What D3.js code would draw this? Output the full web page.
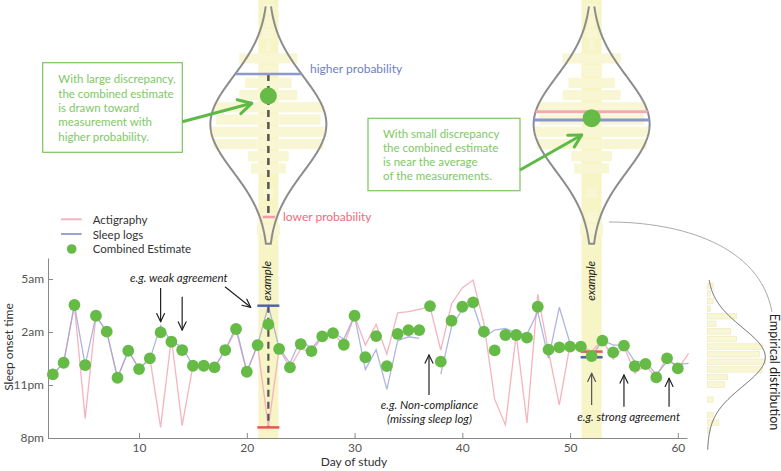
<!DOCTYPE html>
<html>
<head>
<meta charset="utf-8">
<script src="https://cdn.jsdelivr.net/npm/d3@7"></script>
<style>
body { margin: 0; background: #fff; }
text { font-family: Lato, "Open Sans", sans-serif; }
</style>
</head>
<body>
<svg id="chart" width="781" height="471"></svg>
<script>
// hours after 8pm
var days = d3.range(2, 62);
var actigraphy = [3.6,4.26,7.53,1.11,6.92,6.02,3.41,4.94,3.9,4.55,
                  0.6,5.66,0.7,4.09,4.09,4.0,4.98,6.1,3.75,5.26,
                  0.6,5.04,3.98,5.04,4.85,5.73,5.96,5.26,6.92,5.26,
                  6.43,4.75,7.09,7.15,7.28,7.43,4.98,7.6,8.5,8.94,
                  6.5,2.2,0.74,5.87,0.85,8.13,4.9,1.87,5.3,5.2,
                  4.89,5.55,4.47,5.2,3.66,4.1,3.43,4.6,3.9,4.79];
var sleepLogs = [3.6,4.26,7.53,4.13,6.92,6.02,3.41,4.94,3.95,4.45,
                 6.36,5.45,5.17,4.09,4.09,4.0,4.98,6.3,3.75,5.26,
                 7.49,5.1,4.23,5.59,5.04,5.8,5.96,5.6,6.92,3.87,
                 5.0,2.75,5.51,5.73,5.64,null,3.62,6.3,7.28,7.53,
                 5.7,6.11,6.21,5.92,5.87,7.15,4.51,7.4,5.35,5.15,
                 4.57,5.55,5.26,5.26,4.32,4.32,3.6,4.32,4.17,4.23];
var combined = [3.6,4.26,7.53,4.13,6.92,6.02,3.41,4.94,3.9,4.51,
                5.98,5.45,4.98,4.09,4.09,4.0,4.98,6.17,3.75,5.26,
                6.43,5.04,4.0,5.32,4.92,5.75,5.94,5.28,6.92,4.57,
                5.77,4.07,5.89,6.11,6.11,7.47,4.32,6.64,7.43,7.68,
                6.02,4.96,5.83,5.83,5.68,7.43,5.0,5.13,5.17,5.17,
                4.64,5.51,4.85,5.23,4.07,4.19,3.43,4.51,3.94,null];

var yTicks = [0, 3, 6, 9];
var yTickLabels = ["8pm", "11pm", "2am", "5am"];
var xTicks = [10, 20, 30, 40, 50, 60];
var exampleDays = [22, 52];

// empirical distribution (top bin first)
var histCounts = [2,1,2,1,10,3,8,10,19,18,20,19,7,6,0,2,0,2,4,1];
var histTop = 8.83, histStep = 0.43;
var gaussMean = 4.58, gaussSd = 1.67, gaussPeak = 20;

var svg = d3.select("#chart");

var x = d3.scaleLinear().domain([1.55, 60.85]).range([48, 687]);
var y = d3.scaleLinear().domain([0, 10.19]).range([438, 258]);
var violinY = d3.scaleLinear().domain([histTop, histTop - histCounts.length * histStep]).range([3.3, 248]);
var countW = d3.scaleLinear().domain([0, 20]).range([0, 58]);

function gauss(v) { return gaussPeak * Math.exp(-Math.pow(v - gaussMean, 2) / (2 * gaussSd * gaussSd)); }

var green = "#66bb47", pink = "#f5b4bd", blue = "#9aa2d8";

function arrow(g, x1, y1, x2, y2, color, w, len, ang) {
    var a = Math.atan2(y2 - y1, x2 - x1);
    g.append("line").attr("x1", x1).attr("y1", y1).attr("x2", x2).attr("y2", y2)
        .attr("stroke", color).attr("stroke-width", w);
    [ang, -ang].forEach(function(da) {
        g.append("line").attr("x1", x2).attr("y1", y2)
            .attr("x2", x2 - len * Math.cos(a + da)).attr("y2", y2 - len * Math.sin(a + da))
            .attr("stroke", color).attr("stroke-width", w).attr("stroke-linecap", "round");
    });
}

// example columns
svg.selectAll(".band").data(exampleDays).enter().append("rect")
    .attr("x", d => x(d) - 10).attr("y", 0)
    .attr("width", 20).attr("height", y(0))
    .attr("fill", "#f7f4c6");

// violins
var binH = violinY(histTop - histStep) - violinY(histTop);
exampleDays.forEach(function(day) {
    var cx = x(day);
    var g = svg.append("g");
    histCounts.forEach(function(c, i) {
        if (c === 0) return;
        g.append("rect").attr("x", cx - countW(c)).attr("width", 2 * countW(c))
            .attr("y", violinY(histTop - i * histStep) + 1).attr("height", binH - 2)
            .attr("fill", "#f8f6d3");
    });
    var vs = d3.range(8.72, 0.38, -0.04).concat([0.38]);
    var pts = vs.map(v => [cx - countW(gauss(v)), violinY(v)])
        .concat(vs.slice().reverse().map(v => [cx + countW(gauss(v)), violinY(v)]));
    g.append("path").attr("d", d3.line()(pts))
        .attr("fill", "none").attr("stroke", "#8c8c8c").attr("stroke-width", 2);
});

// measurement markers in the violins
var idx22 = days.indexOf(22), idx52 = days.indexOf(52);
var vm22 = d3.scaleLinear().domain([sleepLogs[idx22], actigraphy[idx22]]).range([74, 217]);
var vm52 = d3.scaleLinear().domain([sleepLogs[idx52], actigraphy[idx52]]).range([120, 111.7]);
function hw(py) { return countW(gauss(violinY.invert(py))); }

(function() {
    var cx = x(22), yl = vm22(sleepLogs[idx22]), ya = vm22(actigraphy[idx22]);
    svg.append("line").attr("x1", cx).attr("x2", cx).attr("y1", yl).attr("y2", ya)
        .attr("stroke", "#555").attr("stroke-width", 2.5).attr("stroke-dasharray", "7,5");
    svg.append("line").attr("x1", cx - hw(yl)).attr("x2", cx + hw(yl)).attr("y1", yl).attr("y2", yl)
        .attr("stroke", "#8c99d0").attr("stroke-width", 2.5);
    svg.append("line").attr("x1", cx - hw(ya) + 3).attr("x2", cx + hw(ya) - 2).attr("y1", ya).attr("y2", ya)
        .attr("stroke", "#f29aa6").attr("stroke-width", 2.5);
    svg.append("circle").attr("cx", cx).attr("cy", vm22(combined[idx22])).attr("r", 8.5).attr("fill", green);
    svg.append("text").attr("x", 310).attr("y", 73).attr("font-size", 12).attr("fill", "#7080c0").text("higher probability");
    svg.append("text").attr("x", 283).attr("y", 221).attr("font-size", 12).attr("fill", "#ee6c7c").text("lower probability");

    var cx2 = x(52), ya2 = vm52(actigraphy[idx52]), yl2 = vm52(sleepLogs[idx52]);
    svg.append("line").attr("x1", cx2 - hw(ya2)).attr("x2", cx2 + hw(ya2)).attr("y1", ya2).attr("y2", ya2)
        .attr("stroke", "#f4a8b0").attr("stroke-width", 3);
    svg.append("line").attr("x1", cx2 - hw(yl2)).attr("x2", cx2 + hw(yl2)).attr("y1", yl2).attr("y2", yl2)
        .attr("stroke", "#8a97cc").attr("stroke-width", 3);
    svg.append("circle").attr("cx", cx2).attr("cy", vm52(combined[idx52])).attr("r", 9).attr("fill", green);
})();

// annotation boxes
var boxGreen = "#7cc462", textGreen = "#80c866";
var box1 = svg.append("g");
box1.append("rect").attr("x", 42.7).attr("y", 62.7).attr("width", 139.6).attr("height", 89.6)
    .attr("fill", "none").attr("stroke", boxGreen).attr("stroke-width", 1.2);
["With large discrepancy,", "the combined estimate", "is drawn toward", "measurement with", "higher probability."]
    .forEach(function(t, i) {
        box1.append("text").attr("x", 58.3).attr("y", 83.3 + i * 14.3).attr("font-size", 11.5)
            .attr("fill", textGreen).text(t);
    });
arrow(svg, 182.3, 121.7, 251.7, 103.3, "#5eba46", 3, 15, 0.5);

var box2 = svg.append("g");
box2.append("rect").attr("x", 368).attr("y", 118.3).attr("width", 152).attr("height", 72.4)
    .attr("fill", "none").attr("stroke", boxGreen).attr("stroke-width", 1.2);
["With small discrepancy", "the combined estimate", "is near the average", "of the measurements."]
    .forEach(function(t, i) {
        box2.append("text").attr("x", 383).attr("y", 137.5 + i * 14.3).attr("font-size", 11.5)
            .attr("fill", textGreen).text(t);
    });
arrow(svg, 520, 170, 581.7, 135, "#5eba46", 3, 14, 0.5);

// legend
var leg = svg.append("g");
leg.append("line").attr("x1", 61).attr("x2", 81.7).attr("y1", 219.3).attr("y2", 219.3).attr("stroke", pink).attr("stroke-width", 2);
leg.append("line").attr("x1", 61).attr("x2", 81.7).attr("y1", 234).attr("y2", 234).attr("stroke", blue).attr("stroke-width", 2);
leg.append("circle").attr("cx", 71.7).attr("cy", 249).attr("r", 4.8).attr("fill", green);
[["Actigraphy", 224], ["Sleep logs", 238.7], ["Combined Estimate", 253.3]].forEach(function(d) {
    leg.append("text").attr("x", 92.7).attr("y", d[1]).attr("font-size", 11.5).attr("fill", "#333").text(d[0]);
});

// axes
var yAxis = svg.append("g").attr("transform", "translate(48,0)")
    .call(d3.axisLeft(y).tickValues(yTicks).tickFormat((d, i) => yTickLabels[i])
        .tickSizeInner(-5).tickSizeOuter(0).tickPadding(4));
var xAxis = svg.append("g").attr("transform", "translate(0," + y(0) + ")")
    .call(d3.axisBottom(x).tickValues(xTicks).tickSizeInner(-5).tickSizeOuter(0).tickPadding(5));
[yAxis, xAxis].forEach(function(a) {
    a.select(".domain").attr("stroke", "#888");
    a.selectAll(".tick line").attr("stroke", "#888");
    a.selectAll(".tick text").attr("font-family", "Lato, sans-serif").attr("font-size", 12).attr("fill", "#555");
});
svg.append("text").attr("x", 354).attr("y", 466).attr("text-anchor", "middle")
    .attr("font-size", 12).attr("fill", "#333").text("Day of study");
svg.append("text").attr("transform", "translate(12.5,347) rotate(-90)").attr("text-anchor", "middle")
    .attr("font-size", 12).attr("fill", "#333").text("Sleep onset time");

// series
var lineGen = d3.line().defined(d => d[1] != null).x(d => x(d[0])).y(d => y(d[1]));
svg.append("path").attr("d", lineGen(days.map((d, i) => [d, actigraphy[i]])))
    .attr("fill", "none").attr("stroke", pink).attr("stroke-width", 1.3);
svg.append("path").attr("d", lineGen(days.map((d, i) => [d, sleepLogs[i]])))
    .attr("fill", "none").attr("stroke", blue).attr("stroke-width", 1.3).attr("opacity", 0.8);

// example markers in the plot
(function() {
    var cx = x(22);
    svg.append("line").attr("x1", cx).attr("x2", cx).attr("y1", y(sleepLogs[idx22])).attr("y2", y(actigraphy[idx22]))
        .attr("stroke", "#555").attr("stroke-width", 2.2).attr("stroke-dasharray", "7,5");
})();
exampleDays.forEach(function(day) {
    var i = days.indexOf(day), cx = x(day);
    svg.append("line").attr("x1", cx - 11).attr("x2", cx + 11).attr("y1", y(actigraphy[i])).attr("y2", y(actigraphy[i]))
        .attr("stroke", "#e2585a").attr("stroke-width", 2.5);
    svg.append("line").attr("x1", cx - 11).attr("x2", cx + 11).attr("y1", y(sleepLogs[i])).attr("y2", y(sleepLogs[i]))
        .attr("stroke", "#5364a6").attr("stroke-width", 2.5);
});

svg.selectAll(".pt").data(days.map((d, i) => [d, combined[i]]).filter(d => d[1] != null))
    .enter().append("circle")
    .attr("cx", d => x(d[0])).attr("cy", d => y(d[1])).attr("r", 5.9).attr("fill", green);

// "example" labels
exampleDays.forEach(function(day) {
    svg.append("text").attr("transform", "translate(" + (x(day) + 3) + ",261) rotate(-90)")
        .attr("text-anchor", "end").attr("font-size", 11.5).attr("font-style", "italic")
        .attr("fill", "#222").text("example");
});

// black annotations
var ann = svg.append("g");
ann.append("text").attr("x", 130).attr("y", 282).attr("font-size", 11.5).attr("font-style", "italic").attr("fill", "#222").text("e.g. weak agreement");
arrow(ann, x(12), 288, x(12), 321.7, "#222", 1.2, 9, 0.45);
arrow(ann, x(14), 296.7, x(14), 330, "#222", 1.2, 9, 0.45);
arrow(ann, 225, 286.7, 250.7, 307.3, "#222", 1.2, 9, 0.45);
ann.append("text").attr("x", 429.5).attr("y", 409.3).attr("text-anchor", "middle").attr("font-size", 11.5).attr("font-style", "italic").attr("fill", "#222").text("e.g. Non-compliance");
ann.append("text").attr("x", 429.5).attr("y", 423.3).attr("text-anchor", "middle").attr("font-size", 11.5).attr("font-style", "italic").attr("fill", "#222").text("(missing sleep log)");
arrow(ann, x(37) - 1, 395, x(37) - 1, 355, "#222", 1.2, 9, 0.45);
ann.append("text").attr("x", 577.3).attr("y", 420.7).attr("font-size", 11.5).attr("font-style", "italic").attr("fill", "#222").text("e.g. strong agreement");
arrow(ann, x(52), 405, x(52), 373.3, "#555", 1.2, 9, 0.45);
arrow(ann, x(55), 406.7, x(55), 375, "#222", 1.2, 9, 0.45);
arrow(ann, x(59) + 2, 406.7, x(59) + 2, 378.3, "#222", 1.2, 9, 0.45);

// empirical distribution on the right
var hx = 707.3;
var hist = svg.append("g");
histCounts.forEach(function(c, i) {
    if (c === 0) return;
    var y0 = y(histTop - i * histStep), y1 = y(histTop - (i + 1) * histStep);
    hist.append("rect").attr("x", hx).attr("y", y0 + 1).attr("width", countW(c)).attr("height", y1 - y0 - 2)
        .attr("fill", "#f8f6d3").attr("stroke", "#ece8bf").attr("stroke-width", 0.6);
});
var cv = d3.range(8.94, -0.68, -0.04);
hist.append("path").attr("d", d3.line()(cv.map(v => [hx + countW(gauss(v)), y(v)])))
    .attr("fill", "none").attr("stroke", "#666").attr("stroke-width", 1);
svg.append("path").attr("d", "M609,222 C680,222 760,245 772,312")
    .attr("fill", "none").attr("stroke", "#aaa").attr("stroke-width", 1);
svg.append("text").attr("transform", "translate(769.5,372) rotate(90)").attr("text-anchor", "middle")
    .attr("font-size", 12.5).attr("fill", "#222").text("Empirical distribution");
</script>
</body>
</html>
